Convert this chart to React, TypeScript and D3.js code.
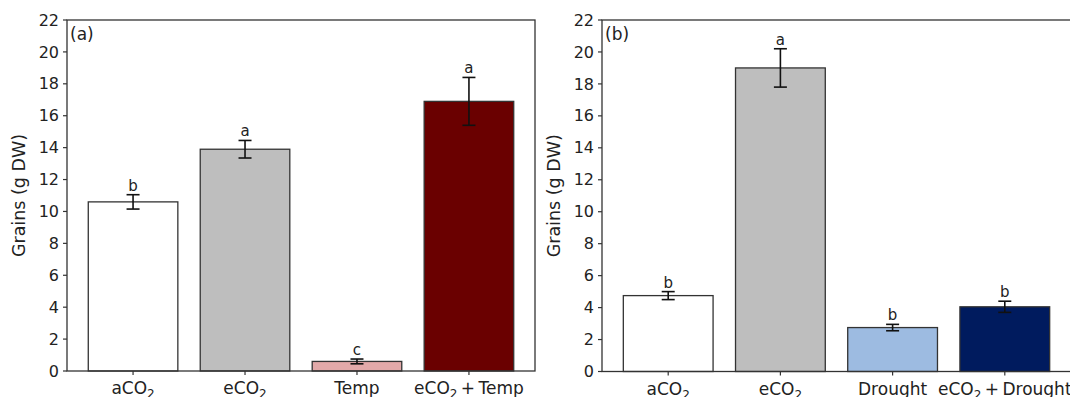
import { useEffect, useRef } from 'react';
import * as d3 from 'd3';

const panelALabels = ['aCO2', 'eCO2', 'Temp', 'eCO2\u2009+\u2009Temp'];
const panelAValues = [10.6, 13.9, 0.6, 16.9];
const panelAErrors = [0.45, 0.55, 0.15, 1.5];
const panelALetters = ['b', 'a', 'c', 'a'];
const panelAColors = ['#ffffff', '#bebebe', '#e2a9a9', '#6a0000'];

const panelBLabels = ['aCO2', 'eCO2', 'Drought', 'eCO2\u2009+\u2009Drought'];
const panelBValues = [4.75, 19.0, 2.75, 4.05];
const panelBErrors = [0.25, 1.2, 0.2, 0.35];
const panelBLetters = ['b', 'a', 'b', 'b'];
const panelBColors = ['#ffffff', '#bebebe', '#9dbbe1', '#001b5e'];

const yTicks = [0, 2, 4, 6, 8, 10, 12, 14, 16, 18, 20, 22];

const FONT = 'DejaVu Sans, sans-serif';

const drawPanel = (svg, opts) => {
  const { left, right, top, bottom, labels, values, errors, letters, colors, tag } = opts;

  const x = d3.scaleLinear().domain([-0.59, 3.59]).range([left, right]);
  const y = d3.scaleLinear().domain([0, 22]).range([bottom, top]);
  const bw = x(0.4) - x(-0.4);

  const g = svg.append('g');

  // bars
  g.selectAll('rect.bar')
    .data(values)
    .enter()
    .append('rect')
    .attr('x', (_, i) => x(i) - bw / 2)
    .attr('y', d => y(d))
    .attr('width', bw)
    .attr('height', d => y(0) - y(d))
    .attr('fill', (_, i) => colors[i])
    .attr('stroke', '#333')
    .attr('stroke-width', 1.3);

  // error bars
  const eb = g.selectAll('g.err').data(values).enter().append('g');
  eb.append('line')
    .attr('x1', (_, i) => x(i)).attr('x2', (_, i) => x(i))
    .attr('y1', (d, i) => y(d - errors[i])).attr('y2', (d, i) => y(d + errors[i]))
    .attr('stroke', '#111').attr('stroke-width', 1.6);
  [-1, 1].forEach(s => {
    eb.append('line')
      .attr('x1', (_, i) => x(i) - 6.5).attr('x2', (_, i) => x(i) + 6.5)
      .attr('y1', (d, i) => y(d + s * errors[i])).attr('y2', (d, i) => y(d + s * errors[i]))
      .attr('stroke', '#111').attr('stroke-width', 1.6);
  });

  // significance letters
  g.selectAll('text.sig')
    .data(values)
    .enter()
    .append('text')
    .attr('x', (_, i) => x(i))
    .attr('y', (d, i) => y(d + errors[i]) - 4)
    .attr('text-anchor', 'middle')
    .style('font-family', FONT)
    .style('font-size', '15px')
    .attr('fill', '#222')
    .text((_, i) => letters[i]);

  // y axis ticks and labels
  yTicks.forEach(t => {
    g.append('line')
      .attr('x1', left - 4).attr('x2', left)
      .attr('y1', y(t)).attr('y2', y(t))
      .attr('stroke', '#333').attr('stroke-width', 1.2);
    g.append('text')
      .attr('x', left - 8)
      .attr('y', y(t))
      .attr('dy', '0.35em')
      .attr('text-anchor', 'end')
      .style('font-family', FONT)
      .style('font-size', '16px')
      .attr('fill', '#222')
      .text(t);
  });

  // x ticks and labels (CO2 with subscript)
  labels.forEach((lab, i) => {
    g.append('line')
      .attr('x1', x(i)).attr('x2', x(i))
      .attr('y1', bottom).attr('y2', bottom + 4)
      .attr('stroke', '#333').attr('stroke-width', 1.2);
    const t = g.append('text')
      .attr('x', x(i))
      .attr('y', bottom + 23)
      .attr('text-anchor', 'middle')
      .style('font-family', FONT)
      .style('font-size', '17px')
      .attr('fill', '#222');
    const parts = lab.split('CO2');
    let lowered = false;
    parts.forEach((p, k) => {
      if (p) {
        const ts = t.append('tspan').text(p);
        if (lowered) { ts.attr('dy', -4); lowered = false; }
      }
      if (k < parts.length - 1) {
        t.append('tspan').text('CO');
        t.append('tspan').attr('dy', 4).style('font-size', '12px').text('2');
        lowered = true;
      }
    });
  });

  // y axis title
  g.append('text')
    .attr('transform', `translate(${left - 42},${(top + bottom) / 2}) rotate(-90)`)
    .attr('text-anchor', 'middle')
    .style('font-family', FONT)
    .style('font-size', '17.5px')
    .attr('fill', '#222')
    .text('Grains (g DW)');

  // frame
  g.append('rect')
    .attr('x', left).attr('y', top)
    .attr('width', right - left).attr('height', bottom - top)
    .attr('fill', 'none')
    .attr('stroke', '#333')
    .attr('stroke-width', 1.3);

  // panel tag
  g.append('text')
    .attr('x', left + 3)
    .attr('y', top + 20)
    .style('font-family', FONT)
    .style('font-size', '17px')
    .attr('fill', '#222')
    .text(tag);
};

const App = () => {
  const svgRef = useRef(null);

  useEffect(() => {
    const svg = d3.select(svgRef.current);
    svg.selectAll('*').remove();

    drawPanel(svg, {
      left: 67, right: 535, top: 20, bottom: 371,
      labels: panelALabels, values: panelAValues, errors: panelAErrors,
      letters: panelALetters, colors: panelAColors, tag: '(a)'
    });
    drawPanel(svg, {
      left: 602, right: 1071, top: 20, bottom: 371.5,
      labels: panelBLabels, values: panelBValues, errors: panelBErrors,
      letters: panelBLetters, colors: panelBColors, tag: '(b)'
    });
  }, []);

  return (
    <svg
      ref={svgRef}
      width={1070}
      height={397}
      style={{ position: 'absolute', left: 0, top: 0, background: '#fff' }}
    />
  );
};

export default App;
